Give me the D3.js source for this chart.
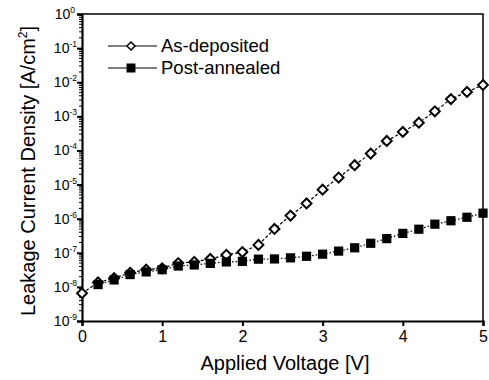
<!DOCTYPE html>
<html>
<head>
<meta charset="utf-8">
<script src="https://cdn.jsdelivr.net/npm/d3@7"></script>
<style>
  body { margin: 0; background: #fff; }
  text { font-family: "Liberation Sans", Arial, sans-serif; fill: #000; }
</style>
</head>
<body>
<div id="chart"></div>
<script>
// Data
var voltage = [0, 0.2, 0.4, 0.6, 0.8, 1.0, 1.2, 1.4, 1.6, 1.8, 2.0, 2.2, 2.4, 2.6, 2.8,
  3.0, 3.2, 3.4, 3.6, 3.8, 4.0, 4.2, 4.4, 4.6, 4.8, 5.0];
var asDeposited = [6.5e-9, 1.35e-8, 1.8e-8, 2.6e-8, 3.2e-8, 3.5e-8, 5.0e-8, 5.4e-8, 6.6e-8, 8.7e-8,
  1.05e-7, 1.7e-7, 5.0e-7, 1.23e-6, 2.8e-6, 7.1e-6, 1.6e-5, 3.7e-5, 8.1e-5, 1.9e-4,
  3.5e-4, 6.5e-4, 1.4e-3, 3.2e-3, 5.2e-3, 8.3e-3];
var postVoltage = voltage.slice(1);
var postAnnealed = [1.17e-8, 1.6e-8, 2.3e-8, 2.75e-8, 3.2e-8, 4.1e-8, 4.4e-8, 4.9e-8, 5.4e-8,
  5.6e-8, 6.5e-8, 6.6e-8, 7.1e-8, 7.9e-8, 9.1e-8, 1.12e-7, 1.4e-7, 1.9e-7, 2.6e-7,
  3.7e-7, 4.9e-7, 6.9e-7, 8.7e-7, 1.1e-6, 1.45e-6];
var xTicks = [0, 1, 2, 3, 4, 5];
var yExponents = [0, -1, -2, -3, -4, -5, -6, -7, -8, -9];
var seriesNames = ["As-deposited", "Post-annealed"];

var svgWidth = 489;
var svgHeight = 380;
var margin = { top: 14, right: 6, bottom: 59, left: 82 };
var width = 483 - margin.left;
var height = 321 - margin.top;

var svg = d3.select("#chart").append("svg")
  .attr("width", svgWidth)
  .attr("height", svgHeight);

var chartGroup = svg.append("g")
  .attr("transform", `translate(${margin.left}, ${margin.top})`);

var xScale = d3.scaleLinear().domain([0, 5]).range([0, width]);
var yScale = d3.scaleLog().domain([1e-9, 1]).range([height, 0]);

// frame (top and right)
chartGroup.append("path")
  .attr("d", `M0,0H${width}V${height}`)
  .attr("fill", "none")
  .attr("stroke", "#000")
  .attr("stroke-width", 1.5);

// minor y ticks
var minorVals = [];
for (var e = -9; e < 0; e++) {
  for (var m = 2; m <= 9; m++) minorVals.push(m * Math.pow(10, e));
}
chartGroup.selectAll(".minorY")
  .data(minorVals)
  .enter()
  .append("line")
  .attr("x1", -3).attr("x2", 0)
  .attr("y1", d => yScale(d)).attr("y2", d => yScale(d))
  .attr("stroke", "#000").attr("stroke-width", 1);

// y axis
var yAxis = chartGroup.append("g")
  .call(d3.axisLeft(yScale).tickValues(yExponents.map(e => Math.pow(10, e))).tickSize(5).tickFormat(""));
yAxis.select(".domain").attr("stroke-width", 2.2);
yAxis.selectAll(".tick line").attr("stroke-width", 2);

var yLabels = chartGroup.selectAll(".ylab")
  .data(yExponents)
  .enter()
  .append("text")
  .attr("x", d => d === 0 ? -7 : -5)
  .attr("y", d => yScale(Math.pow(10, d)) + 5)
  .attr("text-anchor", "end")
  .style("font-size", "14px");
yLabels.append("tspan").text("10");
yLabels.append("tspan")
  .attr("dy", -6)
  .style("font-size", "8.5px")
  .text(d => d === 0 ? "0" : "-" + Math.abs(d));

// x axis
var xAxis = chartGroup.append("g")
  .attr("transform", `translate(0, ${height})`)
  .call(d3.axisBottom(xScale).tickValues(xTicks).tickSize(5).tickFormat(d3.format("d")));
xAxis.select(".domain").attr("stroke-width", 2.2);
xAxis.selectAll(".tick line").attr("stroke-width", 2);
xAxis.selectAll(".tick text")
  .attr("y", 10)
  .style("font-size", "16px")
  .style("font-family", "'Liberation Sans', Arial, sans-serif")
  .attr("fill", "#000");

// axis titles
svg.append("text")
  .attr("x", 285)
  .attr("y", 370)
  .attr("text-anchor", "middle")
  .style("font-size", "20px")
  .text("Applied Voltage [V]");

var yTitle = svg.append("text")
  .attr("transform", `translate(35, 171) rotate(-90)`)
  .attr("text-anchor", "middle")
  .style("font-size", "20px");
yTitle.append("tspan").text("Leakage Current Density [A/cm");
yTitle.append("tspan").attr("dy", -8).style("font-size", "12px").text("2");
yTitle.append("tspan").attr("dy", 8).text("]");

var diamond = d3.symbol().type(d3.symbolDiamond2).size(62);
var square = d3.symbol().type(d3.symbolSquare).size(85);

var asData = voltage.map((v, i) => ({ x: v, y: asDeposited[i] }));
var postData = postVoltage.map((v, i) => ({ x: v, y: postAnnealed[i] }));

var line = d3.line().x(d => xScale(d.x)).y(d => yScale(d.y));

// as-deposited series
chartGroup.append("path")
  .datum(asData)
  .attr("d", line)
  .attr("fill", "none")
  .attr("stroke", "#000")
  .attr("stroke-width", 1.2)
  .attr("stroke-dasharray", "3,2");

chartGroup.selectAll(".asPt")
  .data(asData)
  .enter()
  .append("path")
  .attr("d", diamond)
  .attr("transform", d => `translate(${xScale(d.x)}, ${yScale(d.y)})`)
  .attr("fill", "#fff")
  .attr("stroke", "#000")
  .attr("stroke-width", 2);

// post-annealed series
chartGroup.append("path")
  .datum(postData)
  .attr("d", line)
  .attr("fill", "none")
  .attr("stroke", "#000")
  .attr("stroke-width", 1.2)
  .attr("stroke-dasharray", "1.5,2");

chartGroup.selectAll(".postPt")
  .data(postData)
  .enter()
  .append("path")
  .attr("d", square)
  .attr("transform", d => `translate(${xScale(d.x)}, ${yScale(d.y)})`)
  .attr("fill", "#000");

// legend
var legend = svg.append("g");
var legendRows = [
  { name: seriesNames[0], y: 46, sym: d3.symbol().type(d3.symbolDiamond2).size(42), fill: "#fff" },
  { name: seriesNames[1], y: 68, sym: d3.symbol().type(d3.symbolSquare).size(55), fill: "#000" }
];
legendRows.forEach(r => {
  legend.append("line")
    .attr("x1", 108).attr("x2", 157)
    .attr("y1", r.y).attr("y2", r.y)
    .attr("stroke", "#000").attr("stroke-width", 1.2);
  legend.append("path")
    .attr("d", r.sym)
    .attr("transform", `translate(131, ${r.y})`)
    .attr("fill", r.fill)
    .attr("stroke", "#000")
    .attr("stroke-width", 1.5);
  legend.append("text")
    .attr("x", 161)
    .attr("y", r.y + 6)
    .style("font-size", "18.5px")
    .text(r.name);
});
</script>
</body>
</html>
